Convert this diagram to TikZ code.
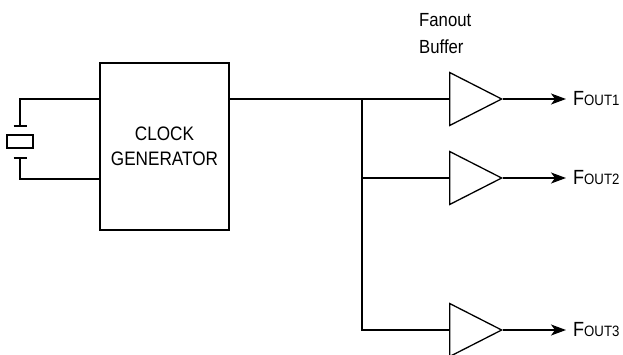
\documentclass[tikz,border=0pt]{standalone}
\usepackage{fontspec}
\setmainfont{Liberation Sans}[FakeStretch=0.88]
\usetikzlibrary{arrows.meta,shapes.geometric}

\begin{document}
\begin{tikzpicture}[x=1pt,y=-1pt]
	\tikzstyle{block}=[
		draw, line width=1.3pt, inner sep=0pt, align=center,
		minimum width=129pt, minimum height=167pt,
		font=\fontsize{19.5}{25}\selectfont
	]
	\tikzstyle{buffer}=[
		draw, isosceles triangle, isosceles triangle stretches,
		minimum width=53pt, minimum height=52pt, inner sep=0pt,
		line width=1.3pt, anchor=lower side
	]
	\tikzstyle{crystal}=[draw, line width=1.3pt, inner sep=0pt, minimum width=26pt, minimum height=13pt]
	\tikzstyle{wire}=[-, line width=1.3pt]
	\tikzstyle{outwire}=[wire, -{Stealth[length=15pt,width=11pt,inset=4pt]}, shorten >=7pt]
	\tikzstyle{label}=[anchor=west, inner sep=0pt, font=\fontsize{20.5}{20.5}\selectfont]
	\newcommand{\fout}[1]{F{\fontsize{15}{15}\selectfont OUT#1}}
	\useasboundingbox (0,0) rectangle (623,354);
	\node[block] (gen) at (164.5,146.5) {CLOCK\\GENERATOR};
	\node[crystal] (xtal) at (20,141.5) {};
	\coordinate (plateA) at (20,126);
	\coordinate (plateB) at (20,158);
	\coordinate (split) at (362,99);
	\node[buffer] (buf1) at (449,99) {};
	\node[buffer] (buf2) at (449,178) {};
	\node[buffer] (buf3) at (449,330) {};
	\node[label] (f1) at (573,99) {\fout{1}};
	\node[label] (f2) at (573,178) {\fout{2}};
	\node[label] (f3) at (573,330) {\fout{3}};
	\node[anchor=north west, inner sep=0pt, align=left, font=\fontsize{19}{27}\selectfont] (fan) at (419,13) {Fanout\\Buffer};
	% crystal
	\draw[wire] ([xshift=-6.5pt]plateA) -- ([xshift=6.5pt]plateA);
	\draw[wire] ([xshift=-6.5pt]plateB) -- ([xshift=6.5pt]plateB);
	\draw[wire] (plateA) |- (gen.west |- split);
	\draw[wire] (plateB) |- (gen.west |- 0,179);
	% clock tree
	\draw[wire] (gen.east |- split) -- (buf1.lower side);
	\draw[wire] (split) |- (buf2.lower side);
	\draw[wire] (split) |- (buf3.lower side);
	\draw[outwire] (buf1.apex) -- (f1.west);
	\draw[outwire] (buf2.apex) -- (f2.west);
	\draw[outwire] (buf3.apex) -- (f3.west);
\end{tikzpicture}
\end{document}
